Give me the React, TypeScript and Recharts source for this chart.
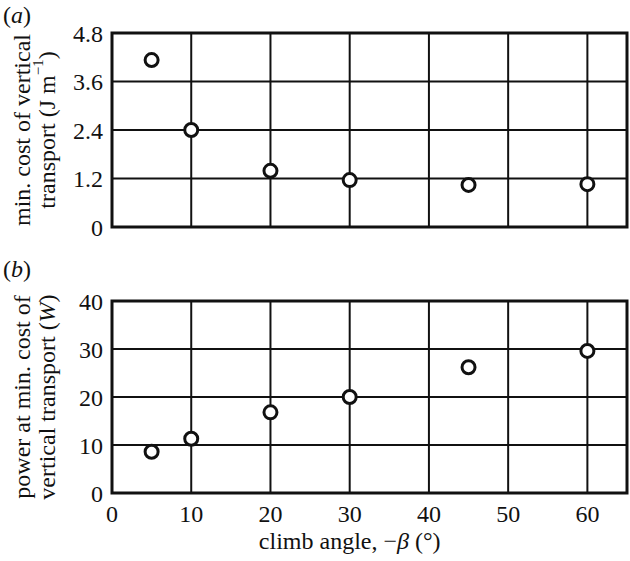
import React from "react";
import {
  ScatterChart,
  Scatter,
  XAxis,
  YAxis,
  CartesianGrid,
  ReferenceArea,
} from "recharts";

const angles = [5, 10, 20, 30, 45, 60];
const minCost = [4.13, 2.4, 1.39, 1.16, 1.04, 1.06];
const powerAtMin = [8.6, 11.3, 16.8, 20.0, 26.2, 29.6];

const angleTicks = [0, 10, 20, 30, 40, 50, 60];
const costTicks = [0, 1.2, 2.4, 3.6, 4.8];
const powerTicks = [0, 10, 20, 30, 40];

const costData = angles.map((a, i) => ({ angle: a, value: minCost[i] }));
const powerData = angles.map((a, i) => ({ angle: a, value: powerAtMin[i] }));

const FONT = "'Liberation Serif', 'Times New Roman', serif";
const INK = "#111";
const FS = 24;

const Ring = (props: any) => (
  <circle cx={props.cx} cy={props.cy} r={6.5} fill="#fff" stroke={INK} strokeWidth={3} />
);

const yLabel = (line1: React.ReactNode, line2: React.ReactNode) => (props: any) => {
  const vb = props.viewBox;
  const cy = vb.y + vb.height / 2;
  const draw = (cx: number, content: React.ReactNode) => (
    <text
      x={cx}
      y={cy}
      transform={`rotate(-90, ${cx}, ${cy})`}
      textAnchor="middle"
      dominantBaseline="central"
      fontFamily={FONT}
      fontSize={FS}
      fill={INK}
    >
      {content}
    </text>
  );
  return (
    <g>
      {draw(22, line1)}
      {draw(47, line2)}
    </g>
  );
};

const xLabel = (props: any) => {
  const vb = props.viewBox;
  const cx = vb.x + (vb.width * 30) / 65;
  return (
    <text x={cx} y={vb.y + 48} textAnchor="middle" dominantBaseline="central" fontFamily={FONT} fontSize={FS} fill={INK}>
      climb angle, −<tspan fontStyle="italic">β</tspan> (°)
    </text>
  );
};

const tickStyle = { fontFamily: FONT, fontSize: FS, fill: INK };

const PanelTag = ({ letter, top }: { letter: string; top: number }) => (
  <div style={{ position: "absolute", left: 3, top, fontFamily: FONT, fontSize: FS, color: INK, lineHeight: "28px" }}>
    (<i>{letter}</i>)
  </div>
);

export default function App() {
  return (
    <div style={{ position: "absolute", left: 0, top: 0, width: 630, height: 561, background: "#fff" }}>
      <PanelTag letter="a" top={1} />
      <PanelTag letter="b" top={255} />
      <div style={{ position: "absolute", left: 0, top: 0 }}>
        <ScatterChart width={630} height={250} margin={{ top: 33, right: 3, bottom: 23, left: 0 }}>
          <CartesianGrid stroke={INK} strokeWidth={2} />
          <XAxis type="number" dataKey="angle" domain={[0, 65]} ticks={angleTicks} hide allowDataOverflow />
          <YAxis
            type="number"
            dataKey="value"
            domain={[0, 4.8]}
            ticks={costTicks}
            width={112}
            axisLine={false}
            tickLine={false}
            tickSize={6}
            tickMargin={3}
            tick={tickStyle}
            label={{
              content: yLabel(
                "min. cost of vertical",
                <>
                  transport (J m<tspan dy={-9} fontSize={15}>−1</tspan>
                  <tspan dy={9}>)</tspan>
                </>
              ),
            }}
          />
          <ReferenceArea x1={0} x2={65} y1={0} y2={4.8} fill="none" stroke={INK} strokeWidth={3} />
          <Scatter data={costData} shape={Ring} isAnimationActive={false} />
        </ScatterChart>
      </div>
      <div style={{ position: "absolute", left: 0, top: 250 }}>
        <ScatterChart width={630} height={311} margin={{ top: 51, right: 3, bottom: 0, left: 0 }}>
          <CartesianGrid stroke={INK} strokeWidth={2} />
          <XAxis
            type="number"
            dataKey="angle"
            domain={[0, 65]}
            ticks={angleTicks}
            height={68}
            axisLine={false}
            tickLine={false}
            tickSize={4}
            tickMargin={8}
            tick={tickStyle}
            allowDataOverflow
            label={{ content: xLabel }}
          />
          <YAxis
            type="number"
            dataKey="value"
            domain={[0, 40]}
            ticks={powerTicks}
            width={112}
            axisLine={false}
            tickLine={false}
            tickSize={6}
            tickMargin={3}
            tick={tickStyle}
            label={{
              content: yLabel(
                "power at min. cost of",
                <>
                  vertical transport (<tspan fontStyle="italic">W</tspan>)
                </>
              ),
            }}
          />
          <ReferenceArea x1={0} x2={65} y1={0} y2={40} fill="none" stroke={INK} strokeWidth={3} />
          <Scatter data={powerData} shape={Ring} isAnimationActive={false} />
        </ScatterChart>
      </div>
    </div>
  );
}
